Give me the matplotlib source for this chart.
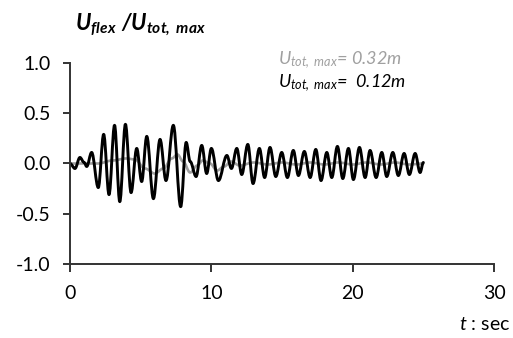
import numpy as np
import matplotlib
matplotlib.use("Agg")
import matplotlib.pyplot as plt
from matplotlib.path import Path
from matplotlib.patches import PathPatch

plt.rcParams['font.family'] = ['Lato', 'DejaVu Sans']
plt.rcParams['mathtext.fontset'] = 'custom'
plt.rcParams['mathtext.it'] = 'Lato:italic'
plt.rcParams['mathtext.rm'] = 'Lato:italic'
plt.rcParams['mathtext.bf'] = 'Lato:bold:italic'

# response for U_tot,max = 0.12m (peaks and troughs, sec / ratio)
t_small = [0.0, 0.35, 0.7, 1.0, 1.18, 1.53, 2.0, 2.38, 2.76, 3.15, 3.52, 3.92,
           4.32, 4.72, 5.07, 5.43, 5.9, 6.37, 6.79, 7.31, 7.83, 8.22, 8.5, 8.92,
           9.32, 9.67, 10.0, 10.5, 11.1, 11.42, 11.8, 12.15, 12.58, 12.95, 13.4,
           13.77, 14.15, 14.56, 14.98, 15.38, 15.8, 16.16, 16.58, 16.99, 17.39,
           17.76, 18.17, 18.52, 18.92, 19.3, 19.7, 20.05, 20.48, 20.88, 21.23,
           21.66, 22.06, 22.41, 22.84, 23.23, 23.64, 24.01, 24.42, 24.77, 25.0]
u_small = [0.0, -0.05, 0.06, 0.01, -0.03, 0.11, -0.24, 0.29, -0.31, 0.38, -0.38, 0.39,
           -0.29, 0.15, -0.18, 0.27, -0.35, 0.24, -0.17, 0.38, -0.43, 0.21, 0.02, -0.13,
           0.18, -0.1, 0.15, -0.17, 0.08, -0.05, 0.15, -0.11, 0.19, -0.2, 0.15,
           -0.14, 0.16, -0.13, 0.11, -0.14, 0.13, -0.12, 0.12, -0.14, 0.14,
           -0.17, 0.11, -0.14, 0.17, -0.15, 0.15, -0.16, 0.16, -0.14, 0.13,
           -0.14, 0.11, -0.13, 0.11, -0.12, 0.10, -0.11, 0.10, -0.09, 0.01]

# response for U_tot,max = 0.32m
t_large = [0.0, 1.0, 2.0, 3.0, 4.0, 4.6, 5.3, 6.0, 6.6, 7.2, 7.6, 8.0, 8.5, 9.0,
           9.4, 9.9, 10.4, 10.9, 11.4, 12.0, 13.0, 14.0, 15.0, 16.0, 17.0, 18.0,
           19.0, 20.0, 21.0, 22.0, 23.0, 24.0, 25.0]
u_large = [0.0, 0.0, 0.0, 0.03, 0.05, 0.04, -0.05, -0.1, -0.05, 0.05, 0.09, 0.02, -0.09, -0.02,
           0.03, 0.0, -0.07, -0.03, 0.02, -0.02, 0.01, -0.01, 0.01, -0.01, 0.01, -0.01,
           0.01, -0.01, 0.01, -0.01, 0.01, -0.01, 0.0]

xticks = [0, 10, 20, 30]
yticks = [-1.0, -0.5, 0.0, 0.5, 1.0]


def smooth_trace(ax, t, u, **kw):
    # cubic segments with flat tangents at each extremum
    verts = [(t[0], u[0])]
    codes = [Path.MOVETO]
    for i in range(1, len(t)):
        dt = (t[i] - t[i - 1]) * 0.3642
        verts += [(t[i - 1] + dt, u[i - 1]), (t[i] - dt, u[i]), (t[i], u[i])]
        codes += [Path.CURVE4] * 3
    patch = PathPatch(Path(verts, codes), fill=False, capstyle='round',
                      joinstyle='round', **kw)
    ax.add_patch(patch)
    return patch


fig = plt.figure(figsize=(5.13, 3.38), dpi=100)
ax = fig.add_axes([0.1365, 0.219, 0.8265, 0.5946])

smooth_trace(ax, t_large, u_large, edgecolor='#a0a0a0', lw=1.9)
smooth_trace(ax, t_small, u_small, edgecolor='black', lw=2.1)

ax.set_xlim(0, 30)
ax.set_ylim(-1, 1)
ax.set_xticks(xticks)
ax.set_yticks(yticks)
ax.set_yticklabels([f'{v:.1f}' for v in yticks])
for s in ['top', 'right']:
    ax.spines[s].set_visible(False)
for s in ['left', 'bottom']:
    ax.spines[s].set_linewidth(1.4)
    ax.spines[s].set_color('#333333')
ax.tick_params(axis='y', direction='out', length=5, width=1.4, color='#333333',
               pad=9, labelsize=14)
ax.tick_params(axis='x', direction='out', length=6, width=1.4, color='#333333',
               pad=9, labelsize=14)

ax.text(0.012, 1.19, r'$\mathbf{U_{flex}\ /U_{tot,\ max}}$', transform=ax.transAxes,
        fontsize=16, ha='left', va='center')
ax.text(0.49, 1.015, r'$U_{tot,\ max}$= 0.32m', transform=ax.transAxes,
        fontsize=13, style='italic', color='#a0a0a0', ha='left', va='center')
ax.text(0.49, 0.90, r'$U_{tot,\ max}$=  0.12m', transform=ax.transAxes,
        fontsize=13, style='italic', color='black', ha='left', va='center')
fig.text(0.995, 0.04, r'$t$ : sec', fontsize=14, ha='right', va='center')

fig.savefig('out.png', dpi=100)
